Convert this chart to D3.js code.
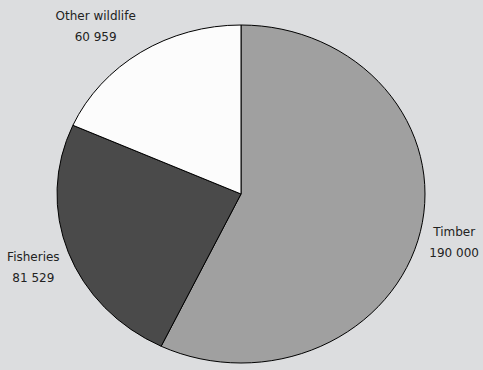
<!DOCTYPE html>
<html>
<head>
<meta charset="utf-8">
<script src="https://cdn.jsdelivr.net/npm/d3@7"></script>
<style>
  html, body { margin: 0; padding: 0; background: #dcdddf; }
  svg { display: block; }
  text { font-family: "DejaVu Sans", sans-serif; font-size: 12px; fill: #222; }
</style>
</head>
<body>
<svg width="483" height="370"></svg>
<script>
// data
const categories = ["Timber", "Fisheries", "Other wildlife"];
const values = [190000, 81529, 60959];
const colors = ["#a0a0a0", "#4a4a4a", "#fcfcfc"];

const svg = d3.select("svg");

// ellipse geometry of the pie
const cx = 241, cy = 194;
const rx = 184, ry = 169;

// numbers use a space as thousands separator
const fmt = d3.formatLocale({decimal: ".", thousands: " ", grouping: [3], currency: ["", ""]}).format(",d");

const data = categories.map((c, i) => ({name: c, value: values[i], color: colors[i]}));

const pie = d3.pie()
  .sort(null)
  .value(d => d.value);

const arc = d3.arc()
  .innerRadius(0)
  .outerRadius(rx);

const arcs = pie(data);

// draw the pie as a circle squashed into an ellipse
const g = svg.append("g")
  .attr("transform", "translate(" + cx + "," + cy + ") scale(1," + (ry / rx) + ")");

g.selectAll("path")
  .data(arcs)
  .enter().append("path")
    .attr("d", arc)
    .attr("fill", d => d.data.color)
    .attr("stroke", "#000")
    .attr("stroke-width", 1)
    .attr("vector-effect", "non-scaling-stroke")
    .attr("stroke-linejoin", "round");

// labels sit just outside the ellipse, pushed away along the mid angle
const lineGap = 21;
const labels = svg.selectAll(".label")
  .data(arcs)
  .enter().append("g")
    .attr("class", "label");

labels.append("text")
  .attr("text-anchor", "middle")
  .attr("y", 0)
  .text(d => d.data.name);

labels.append("text")
  .attr("text-anchor", "middle")
  .attr("y", lineGap)
  .text(d => fmt(d.data.value));

labels.each(function(d) {
  const a = (d.startAngle + d.endAngle) / 2;
  const s = Math.sin(a), c = -Math.cos(a);
  const b = this.getBBox();
  const px = cx + s * rx * 1.05;
  const py = cy + c * ry * 1.1 + 3;
  const bx = px + Math.sign(s) * b.width / 2;
  const by = py + c * b.height / 2;
  // bbox centre relative to the group origin
  const ox = b.x + b.width / 2, oy = b.y + b.height / 2;
  d3.select(this).attr("transform", "translate(" + (bx - ox) + "," + (by - oy) + ")");
});
</script>
</body>
</html>
